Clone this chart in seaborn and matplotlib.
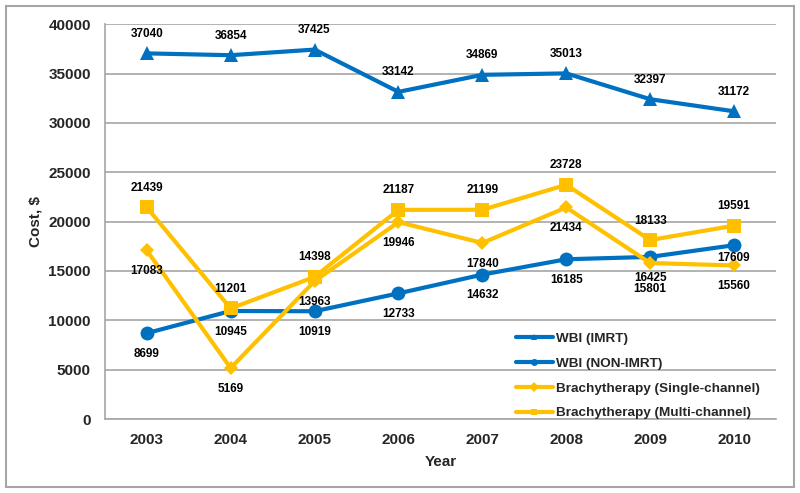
import numpy as np
import pandas as pd
import matplotlib.pyplot as plt
import seaborn as sns
from matplotlib.patches import Rectangle

# values
years = [2003, 2004, 2005, 2006, 2007, 2008, 2009, 2010]
wbi_imrt = [37040, 36854, 37425, 33142, 34869, 35013, 32397, 31172]
wbi_non_imrt = [8699, 10945, 10919, 12733, 14632, 16185, 16425, 17609]
brachy_single = [17083, 5169, 13963, 19946, 17840, 21434, 15801, 15560]
brachy_multi = [21439, 11201, 14398, 21187, 21199, 23728, 18133, 19591]

names = ['WBI (IMRT)', 'WBI (NON-IMRT)',
         'Brachytherapy (Single-channel)', 'Brachytherapy (Multi-channel)']
series = [wbi_imrt, wbi_non_imrt, brachy_single, brachy_multi]

blue = '#0070C0'
gold = '#FFC000'
palette = {names[0]: blue, names[1]: blue, names[2]: gold, names[3]: gold}
markers = {names[0]: '^', names[1]: 'o', names[2]: 'D', names[3]: 's'}
msize = {names[0]: 10, names[1]: 10, names[2]: 7, names[3]: 10}
label_dy = {names[0]: 14, names[1]: -15, names[2]: -15, names[3]: 14}
# a few labels sit at other distances in the reference
label_fix = {(names[1], 2010): -9, (names[2], 2009): -19}

df = pd.DataFrame({
    'Year': years * len(names),
    'Cost': sum(series, []),
    'Series': np.repeat(names, len(years)),
})

sns.set_theme(style='white')
plt.rcParams['font.family'] = ['Liberation Sans', 'DejaVu Sans']
plt.rcParams['font.weight'] = 'bold'

fig = plt.figure(figsize=(8, 4.93), dpi=100)
ax = fig.add_axes([0.131, 0.150, 0.839, 0.801])

for n in names:
    sub = df[df['Series'] == n]
    sns.lineplot(data=sub, x='Year', y='Cost', color=palette[n], marker=markers[n],
                 markersize=msize[n], markeredgewidth=0, linewidth=3, label=n, ax=ax)
    for x, y in zip(sub['Year'], sub['Cost']):
        dy = label_fix.get((n, x), label_dy[n])
        ax.annotate(str(y), (x, y), xytext=(0, dy), textcoords='offset points',
                    ha='center', va='center', fontsize=8.5, fontweight='bold', color='black')

ax.set_xlim(2002.5, 2010.5)
ax.set_ylim(0, 40000)
ax.set_xticks(years)
ax.set_yticks(range(0, 40001, 5000))
ax.tick_params(axis='both', labelsize=11, length=0, pad=10)
for lab in ax.get_xticklabels() + ax.get_yticklabels():
    lab.set_fontweight('bold')
ax.set_xlabel('Year', fontsize=11, fontweight='bold', labelpad=6)
ax.set_ylabel('Cost, $', fontsize=11, fontweight='bold', labelpad=4)
ax.yaxis.grid(True, color='#A6A6A6', linewidth=1.2)
for side in ['top', 'right']:
    ax.spines[side].set_visible(False)
for side in ['left', 'bottom']:
    ax.spines[side].set_color('#A6A6A6')
    ax.spines[side].set_linewidth(1.2)

leg = ax.legend(loc='lower right', bbox_to_anchor=(0.99, -0.025), frameon=False,
                fontsize=9.7, handlelength=2.8, labelspacing=0.92, handletextpad=0.2,
                borderaxespad=0.3)
for h in leg.legend_handles:
    h.set_markersize(5)
for t in leg.get_texts():
    t.set_fontweight('bold')

fig.patches.append(Rectangle((6 / 800, 6 / 493), 788 / 800, 481 / 493, transform=fig.transFigure,
                             fill=False, edgecolor='#A6A6A6', linewidth=1.5))

fig.savefig('out.png', dpi=100)
